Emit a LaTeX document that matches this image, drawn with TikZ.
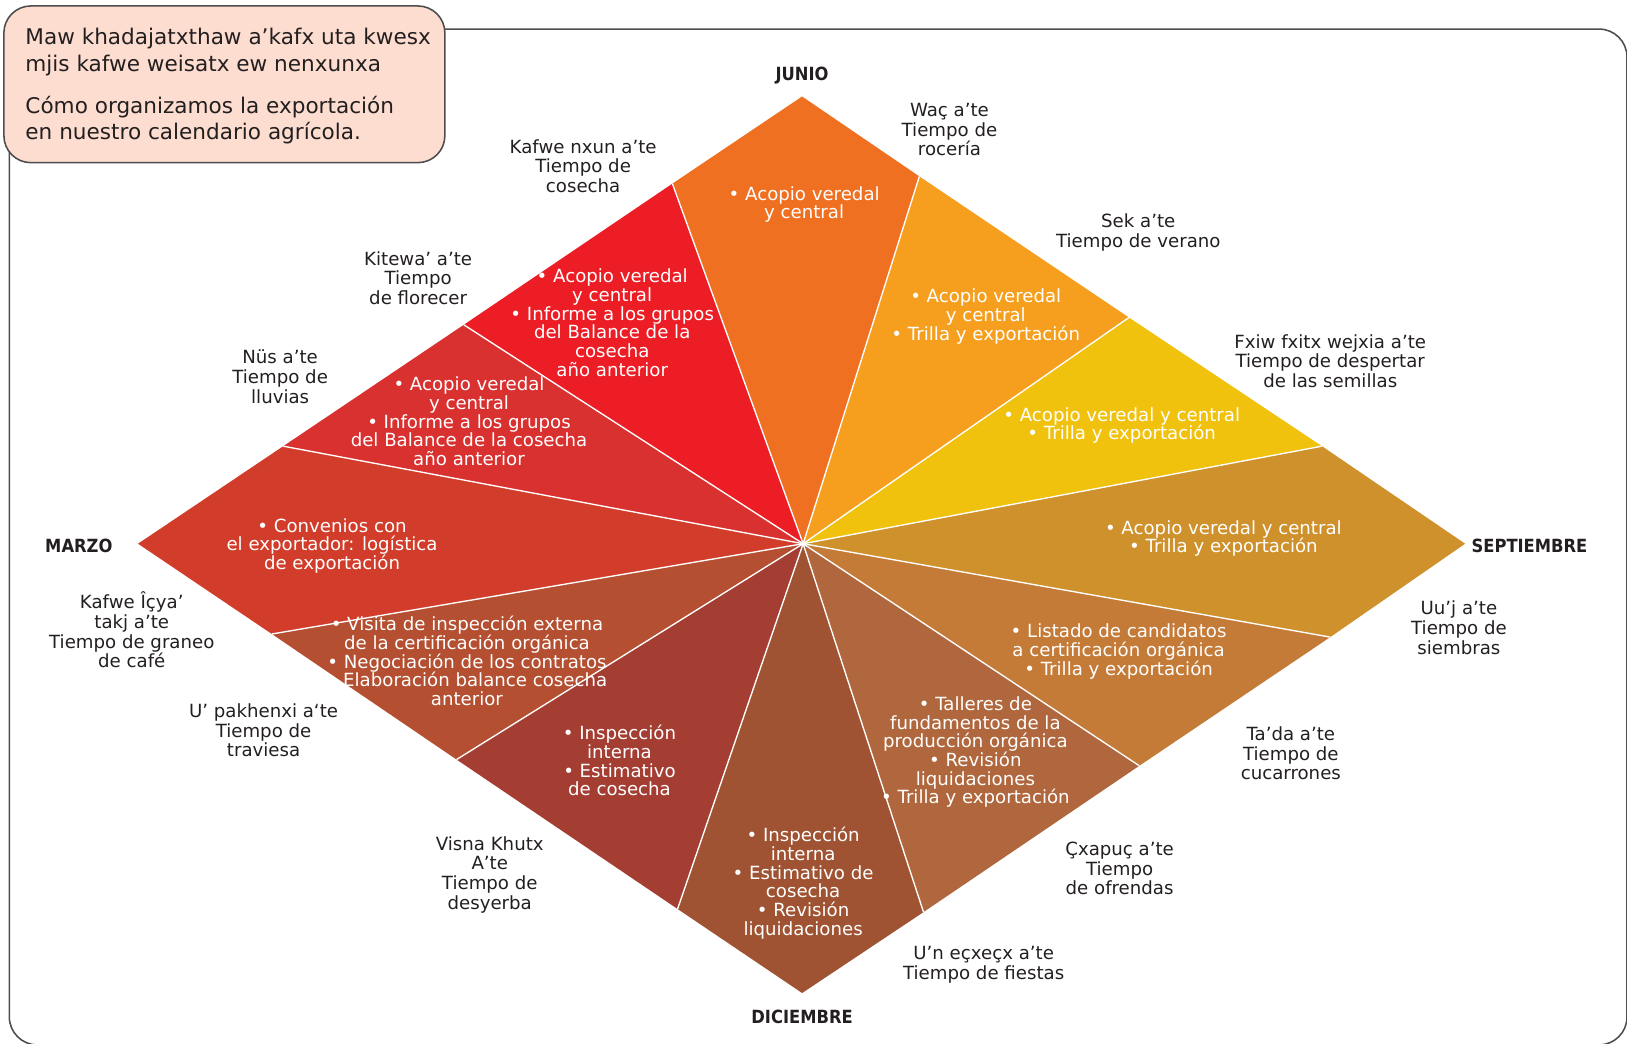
\documentclass[tikz,border=0pt]{standalone}
\usepackage{fontspec}
\setmainfont{DejaVu Sans}[BoldFeatures={FakeStretch=0.9}]
\definecolor{ink}{HTML}{231F20}
\definecolor{framegray}{HTML}{4D4D4F}
\definecolor{titlefill}{HTML}{FDDDD0}
\definecolor{secA}{HTML}{F07022}
\definecolor{secB}{HTML}{F69F1E}
\definecolor{secC}{HTML}{F0C20D}
\definecolor{secD}{HTML}{CF912C}
\definecolor{secE}{HTML}{C57B38}
\definecolor{secF}{HTML}{B0673D}
\definecolor{secG}{HTML}{9F5332}
\definecolor{secH}{HTML}{A43E33}
\definecolor{secI}{HTML}{B44F31}
\definecolor{secJ}{HTML}{D13D2A}
\definecolor{secK}{HTML}{D93130}
\definecolor{secL}{HTML}{EC1D25}
\tikzset{
  season/.style={align=center, text=ink, font=\fontsize{17.5}{19}\selectfont},
  task/.style={align=center, text=white, font=\fontsize{17.5}{18}\selectfont},
  month/.style={text=ink, font=\bfseries\fontsize{17.5}{19}\selectfont},
  cut/.style={draw=white, line width=1.3pt},
}
\def\ap{’}
\def\drawDiamondPoints{
\coordinate (C) at (774,524);
\coordinate (T) at (773,93);
\coordinate (R) at (1412,524);
\coordinate (B) at (773,957);
\coordinate (L) at (133,524);
\coordinate (a1) at (886,170);
\coordinate (a2) at (1088,306);
\coordinate (a3) at (1274,430);
\coordinate (a4) at (1282,614);
\coordinate (a5) at (1098,738);
\coordinate (a6) at (890,879);
\coordinate (a7) at (653,876);
\coordinate (a8) at (440,732);
\coordinate (a9) at (262,611);
\coordinate (a10) at (273,430);
\coordinate (a11) at (447,313);
\coordinate (a12) at (648,177);
}

\begin{document}
\begin{tikzpicture}[x=1pt,y=-1pt]
	\useasboundingbox (0,0) rectangle (1568,1006);
	\draw[framegray, line width=1.5pt, rounded corners=27pt] (9,28) rectangle (1568,1007);
	\drawDiamondPoints
	% sectors, clockwise from JUNIO
	\fill[secA] (C) -- (a12) -- (T) -- (a1) -- cycle;
	\fill[secB] (C) -- (a1) -- (a2) -- cycle;
	\fill[secC] (C) -- (a2) -- (a3) -- cycle;
	\fill[secD] (C) -- (a3) -- (R) -- (a4) -- cycle;
	\fill[secE] (C) -- (a4) -- (a5) -- cycle;
	\fill[secF] (C) -- (a5) -- (a6) -- cycle;
	\fill[secG] (C) -- (a6) -- (B) -- (a7) -- cycle;
	\fill[secH] (C) -- (a7) -- (a8) -- cycle;
	\fill[secI] (C) -- (a8) -- (a9) -- cycle;
	\fill[secJ] (C) -- (a9) -- (L) -- (a10) -- cycle;
	\fill[secK] (C) -- (a10) -- (a11) -- cycle;
	\fill[secL] (C) -- (a11) -- (a12) -- cycle;
	\foreach \i in {1,...,12}
		\draw[cut] (C) -- (a\i);
	% title
	\node[draw=framegray, line width=1.5pt, fill=titlefill, rounded corners=26pt,
		anchor=north west, minimum width=425pt, minimum height=151pt] (title) at (3,5) {};
	\node[anchor=west, align=left, text=ink, font=\fontsize{20.8}{25.5}\selectfont] (titletext) at (21,83)
		{Maw khadajatxthaw a\ap kafx uta kwesx\\ mjis kafwe weisatx ew nenxunxa\\[15pt]
		 Cómo organizamos la exportación\\ en nuestro calendario agrícola.};
	% months
	\node[month] (junio) at (773,73) {JUNIO};
	\node[month] (septiembre) at (1474,526) {SEPTIEMBRE};
	\node[month] (diciembre) at (773,980) {DICIEMBRE};
	\node[month] (marzo) at (76,526) {MARZO};
	% seasons
	\node[season] (roceria) at (915,125) {Waç a\ap te\\ Tiempo de\\ rocería};
	\node[season] (verano) at (1097,224) {Sek a\ap te\\ Tiempo de verano};
	\node[season] (semillas) at (1282,348) {Fxiw fxitx wejxia a\ap te\\ Tiempo de despertar\\ de las semillas};
	\node[season] (siembras) at (1406,605) {Uu\ap j a\ap te\\ Tiempo de\\ siembras};
	\node[season] (cucarrones) at (1244,726) {Ta\ap da a\ap te\\ Tiempo de\\ cucarrones};
	\node[season] (ofrendas) at (1079,837) {Çxapuç a\ap te\\ Tiempo\\ de ofrendas};
	\node[season] (fiestas) at (948,930) {U\ap n eçxeçx a\ap te\\ Tiempo de fiestas};
	\node[season] (desyerba) at (472,843) {Visna Khutx\\ A\ap te\\ Tiempo de\\ desyerba};
	\node[season] (traviesa) at (254,704) {U\ap{} pakhenxi a‘te\\ Tiempo de\\ traviesa};
	\node[season] (graneo) at (127,607) {Kafwe Îçya\ap\\ takj a\ap te\\ Tiempo de graneo\\ de café};
	\node[season] (lluvias) at (270,363) {Nüs a\ap te\\ Tiempo de\\ lluvias};
	\node[season] (florecer) at (403,268) {Kitewa\ap{} a\ap te\\ Tiempo\\ de florecer};
	\node[season] (cosecha) at (562,160) {Kafwe nxun a\ap te\\ Tiempo de\\ cosecha};
	% tasks
	\node[task] (tA) at (775,197) {• Acopio veredal\\ y central};
	\node[task] (tB) at (950,305) {• Acopio veredal\\ y central\\ • Trilla y exportación};
	\node[task] (tC) at (1081,410) {• Acopio veredal y central\\ • Trilla y exportación};
	\node[task] (tD) at (1179,519) {• Acopio veredal y central\\ • Trilla y exportación};
	\node[task] (tE) at (1078,628) {• Listado de candidatos\\ a certificación orgánica\\ • Trilla y exportación};
	\node[task] (tF) at (940,725) {• Talleres de\\ fundamentos de la\\ producción orgánica\\ • Revisión\\ liquidaciones\\ • Trilla y exportación};
	\node[task] (tG) at (774,851) {• Inspección\\ interna\\ • Estimativo de\\ cosecha\\ • Revisión\\ liquidaciones};
	\node[task] (tH) at (597,733) {• Inspección\\ interna\\ • Estimativo\\ de cosecha};
	\node[task] (tI) at (450,637) {• Visita de inspección externa\\ de la certificación orgánica\\ • Negociación de los contratos\\ • Elaboración balance cosecha\\ anterior};
	\node[task] (tJ) at (320,526) {• Convenios con\\ el exportador: logística\\ de exportación};
	\node[task] (tK) at (452,406) {• Acopio veredal\\ y central\\ • Informe a los grupos\\ del Balance de la cosecha\\ año anterior};
	\node[task] (tL) at (590,311) {• Acopio veredal\\ y central\\ • Informe a los grupos\\ del Balance de la\\ cosecha\\ año anterior};
\end{tikzpicture}
\end{document}
